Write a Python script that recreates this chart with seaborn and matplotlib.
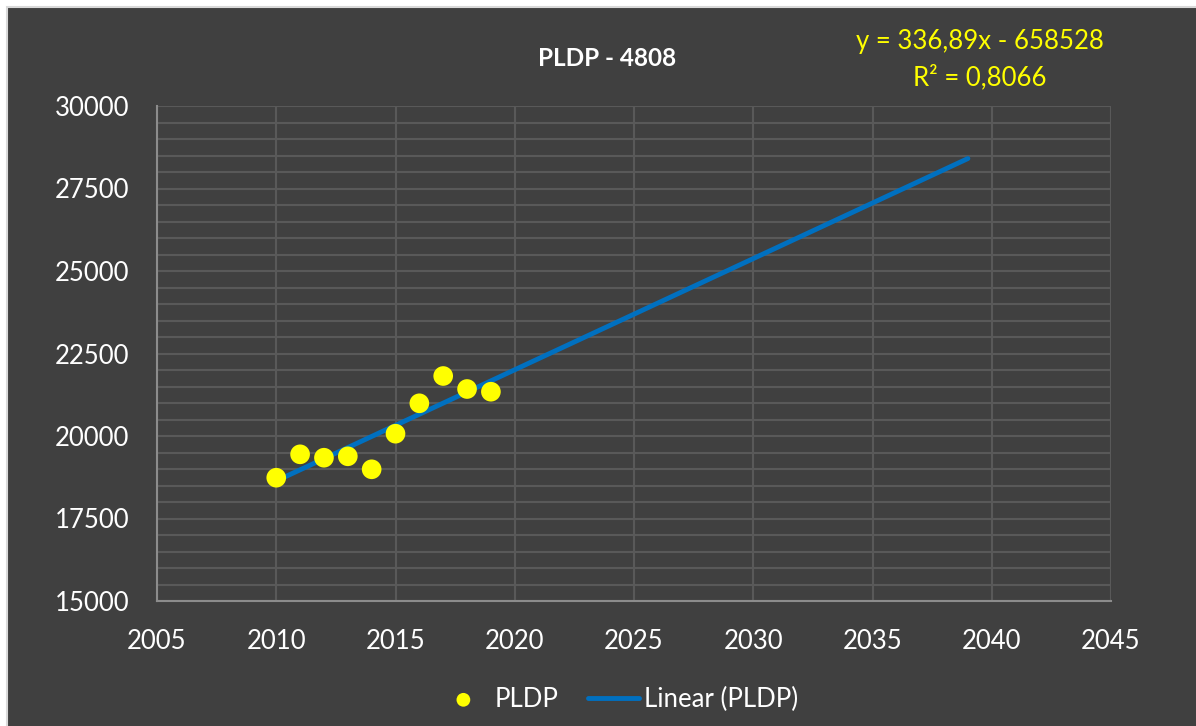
import numpy as np
import pandas as pd
import matplotlib
matplotlib.use("Agg")
import matplotlib.pyplot as plt
import seaborn as sns
from matplotlib.patches import Rectangle
from matplotlib.ticker import MultipleLocator

# data
years = [2010, 2011, 2012, 2013, 2014, 2015, 2016, 2017, 2018, 2019]
pldp = [18736, 19445, 19342, 19385, 18991, 20070, 20991, 21818, 21424, 21342]
trend_years = [2010, 2039]
title = "PLDP - 4808"
equation = "y = 336,89x - 658528\nR² = 0,8066"
series_label = "PLDP"
trend_label = "Linear (PLDP)"

bg = "#404040"
grid_c = "#595959"
axis_c = "#8c8c8c"

sns.set_style("dark")
plt.rcParams["font.family"] = ["Lato", "DejaVu Sans"]

df = pd.DataFrame({"year": years, "value": pldp})
slope, intercept = np.polyfit(df["year"], df["value"], 1)
trend = pd.DataFrame({"year": trend_years})
trend["value"] = slope * trend["year"] + intercept

fig = plt.figure(figsize=(11.96, 7.26), dpi=100, facecolor="white")
fig.patches.append(Rectangle((7 / 1196, -0.05), 1.1, 1.05 - 7 / 726, transform=fig.transFigure,
                             facecolor=bg, edgecolor="#d9d9d9", linewidth=1.5, zorder=-5))
ax = fig.add_axes([157 / 1196, 1 - 601 / 726, (1111 - 157) / 1196, (601 - 106) / 726])
ax.set_facecolor(bg)

sns.lineplot(data=trend, x="year", y="value", ax=ax, color="#0070c0", linewidth=3.5,
             solid_capstyle="round", label=trend_label, zorder=3)
sns.scatterplot(data=df, x="year", y="value", ax=ax, color="#ffff00", s=200,
                edgecolor="none", label=series_label, zorder=4)

ax.set_xlim(2005, 2045)
ax.set_ylim(15000, 30000)
ax.xaxis.set_major_locator(MultipleLocator(5))
ax.yaxis.set_major_locator(MultipleLocator(2500))
ax.yaxis.set_minor_locator(MultipleLocator(500))
ax.grid(which="both", color=grid_c, linewidth=1.5)
ax.grid(which="minor", axis="x", visible=False)
ax.tick_params(axis="both", which="both", length=0, colors="white", labelsize=18.5)
ax.tick_params(axis="y", pad=20)
ax.tick_params(axis="x", pad=20)
ax.set_xlabel("")
ax.set_ylabel("")
for side in ["top", "right"]:
    ax.spines[side].set_visible(False)
for side in ["left", "bottom"]:
    ax.spines[side].set_color(axis_c)
    ax.spines[side].set_linewidth(1.5)

ax.get_legend().remove()
handles, labels = ax.get_legend_handles_labels()
order = [labels.index(series_label), labels.index(trend_label)]
fig.legend([handles[i] for i in order], [labels[i] for i in order],
           loc="center", bbox_to_anchor=(618 / 1196, 1 - 699 / 726), ncol=2,
           frameon=False, fontsize=18.5, labelcolor="white", columnspacing=1.15,
           handlelength=2.0, handletextpad=0.2, markerscale=0.7)

fig.text(607 / 1196, 1 - 58 / 726, title, color="white", fontsize=17.5,
         fontweight="bold", ha="center", va="center")
fig.text(980 / 1196, 1 - 60 / 726, equation, color="#ffff00", fontsize=18.5,
         ha="center", va="center", linespacing=1.5)

fig.savefig("out.png", dpi=100, facecolor=fig.get_facecolor())
